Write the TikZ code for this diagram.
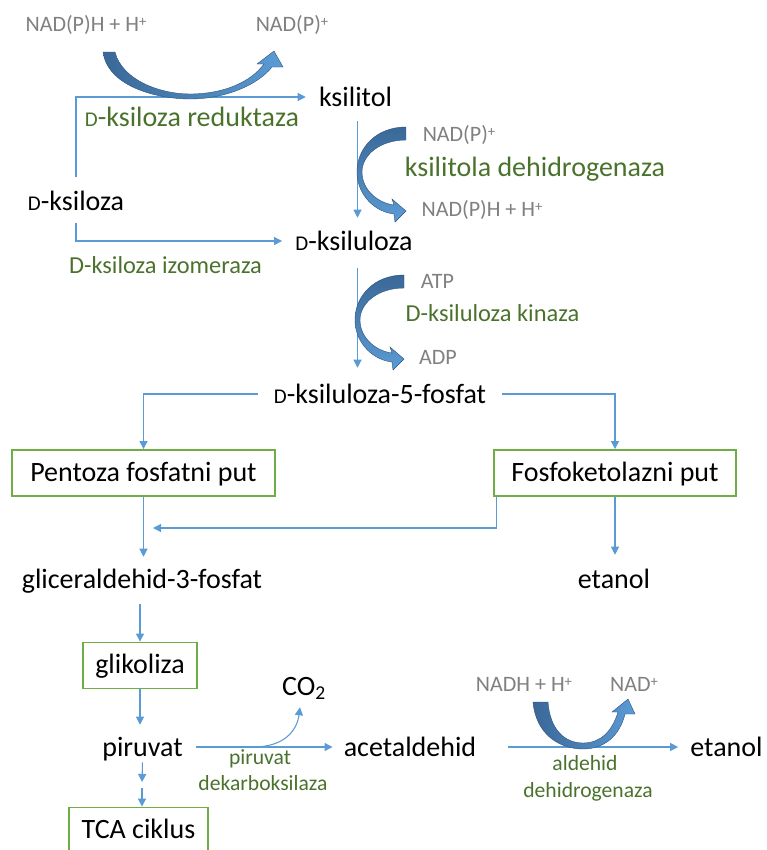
\documentclass[tikz,border=0pt]{standalone}
\usepackage{fontspec}
\setmainfont{Carlito}
\usetikzlibrary{arrows.meta}
\definecolor{lblue}{RGB}{91,155,213}
\definecolor{dblue}{RGB}{58,104,152}
\definecolor{gtext}{RGB}{128,128,128}
\definecolor{grn}{RGB}{74,114,44}
\definecolor{boxgrn}{RGB}{112,173,71}
\newcommand{\scD}{{\fontsize{15.75pt}{16pt}\selectfont D}}
\newcommand{\plussup}{{\fontsize{11pt}{11pt}\selectfont\raisebox{4pt}{+}}}
\newcommand{\carrowpath}{(406,127) .. controls (376,127) and (357,148) .. (357,172)
  .. controls (357,195) and (375,212) .. (394,214) -- (395,222) -- (406,211) -- (392,199) -- (394,205)
  .. controls (378,203) and (362,190) .. (362,172)
  .. controls (362,155) and (380,140) .. (406,140) -- cycle}
\begin{document}
\begin{tikzpicture}[x=0.75pt,y=-0.75pt,
  blk/.style={font=\fontsize{21pt}{24pt}\selectfont, text=black, inner sep=0pt, text height=16.5pt, text depth=3pt, anchor=base},
  gry/.style={font=\fontsize{16.5pt}{19pt}\selectfont, text=gtext, inner sep=0pt, anchor=base},
  grnL/.style={font=\fontsize{21pt}{24pt}\selectfont, text=grn, inner sep=0pt, anchor=base},
  grnM/.style={font=\fontsize{18.3pt}{21pt}\selectfont, text=grn, inner sep=0pt, anchor=base},
  grnS/.style={font=\fontsize{16.2pt}{19pt}\selectfont, text=grn, inner sep=0pt, anchor=base},
  pbox/.style={draw=boxgrn, line width=1.4pt, font=\fontsize{21pt}{24pt}\selectfont, inner sep=0pt, text height=15.5pt, text depth=3pt, minimum height=34.5pt},
  conn/.style={draw=lblue, line width=0.8pt, -{Triangle[length=6pt,width=6pt]}},
  bigarr/.style={draw=dblue!80!black, line width=0.3pt}
]
\useasboundingbox (0,0) rectangle (767,850);

% text nodes (anchored at baseline)
\node[gry] (nadph1) at (86,31.5) {NAD(P)H + H\plussup};
\node[gry] (nadp1) at (292,31.5) {NAD(P)\plussup};
\node[blk] (xylitol) at (355.5,106) {ksilitol};
\node[grnL] (xr) at (192,126) {\scD-ksiloza reduktaza};
\node[blk] (xyl) at (76,210) {\scD-ksiloza};
\node[grnM] (xi) at (165.5,273) {D-ksiloza izomeraza};
\node[blk] (xul) at (354,250) {\scD-ksiluloza};
\node[gry] (nadp2) at (459,141.5) {NAD(P)\plussup};
\node[grnL] (xdh) at (535,176) {ksilitola dehidrogenaza};
\node[gry] (nadph2) at (482,216.5) {NAD(P)H + H\plussup};
\node[gry] (atp) at (437.5,288.5) {ATP};
\node[grnM] (xk) at (492.5,321) {D-ksiluloza kinaza};
\node[gry] (adp) at (438,364.5) {ADP};
\node[blk] (x5p) at (380,403) {\scD-ksiluloza-5-fosfat};
\node[pbox, minimum width=197pt] (ppp) at (143.5,473) {Pentoza fosfatni put};
\node[pbox, minimum width=181pt] (pk) at (615,473) {Fosfoketolazni put};
\node[blk] (g3p) at (142,588) {gliceraldehid-3-fosfat};
\node[blk] (eth1) at (614,588) {etanol};
\node[pbox, minimum width=85.5pt] (gly) at (140,665.5) {glikoliza};
\node[blk] (pyr) at (142.5,756) {piruvat};
\node[pbox, minimum width=104pt] (tca) at (138.5,830.5) {TCA ciklus};
\node[blk] (co2) at (304,695) {CO\textsubscript{2}};
\node[grnS] (pdc1) at (260,764) {piruvat};
\node[grnS] (pdc2) at (263,790) {dekarboksilaza};
\node[blk] (acet) at (410,756) {acetaldehid};
\node[blk] (eth2) at (726.5,756) {etanol};
\node[gry] (nadh) at (524,691.5) {NADH + H\plussup};
\node[gry] (nad) at (634,691.5) {NAD\plussup};
\node[grnS] (ald1) at (585,770) {aldehid};
\node[grnS] (ald2) at (588,797) {dehidrogenaza};

\coordinate (joinpt) at (153,528);
\coordinate (pt) at (142,785);
\coordinate (co2start) at (253,747);

% connectors
\draw[conn, shorten <=8.25pt] (xyl.north) |- ([xshift=-9.75pt]xylitol.west);
\draw[conn, shorten <=6.75pt] (xyl.south) |- ([xshift=-9.75pt]xul.west);
\draw[conn, shorten <=8.25pt, shorten >=7.5pt] ([xshift=1.5pt]xylitol.south) -- ([xshift=1.5pt]xylitol.south |- xul.north);
\draw[conn, shorten <=10.5pt, shorten >=9.75pt] ([xshift=1.5pt]xylitol.south |- xul.south) -- ([xshift=1.5pt]xylitol.south |- x5p.north);
\draw[conn] ([xshift=-12pt]x5p.west) -| (ppp.north);
\draw[conn] ([xshift=12pt]x5p.east) -| (pk.north);
\draw[conn, shorten >=6.75pt] (ppp.south) -- (ppp.south |- g3p.north);
\draw[conn] ([xshift=2pt]pk.south west) |- (joinpt);
\draw[conn, shorten >=8.25pt] (pk.south) -- (pk.south |- eth1.north);
\draw[conn, shorten <=9pt] (g3p.south -| gly.north) -- (gly.north);
\draw[conn, shorten >=6.75pt] (gly.south) -- (gly.south |- pyr.north);
\draw[conn, shorten <=1.5pt, shorten >=2.25pt] (pyr.south) -- (pt);
\draw[conn, shorten <=2.25pt] (pt) -- (pt |- tca.north);
\draw[conn, shorten <=9.75pt, shorten >=8.25pt] (pyr.east) -- (pyr.east -| acet.west);
\draw[conn] (co2start) .. controls (285,747) and (297,730) .. ([xshift=-3pt,yshift=-6pt]co2.south);
\draw[conn, shorten <=24pt, shorten >=9pt] (acet.east) -- (acet.east -| eth2.west);

% curved block arrows
\shade[left color=dblue, right color=lblue, bigarr]
  (103,52) .. controls (108,88) and (160,99) .. (190,99)
  .. controls (225,99) and (258,85) .. (272,67)
  -- (283,67) -- (274,51) -- (257,64) -- (264,64)
  .. controls (250,83) and (222,94) .. (190,94)
  .. controls (160,94) and (122,80) .. (115,52) -- cycle;
\shade[top color=dblue, bottom color=lblue, bigarr] \carrowpath;
\begin{scope}[shift={(-2,148)}]
\shade[top color=dblue, bottom color=lblue, bigarr] \carrowpath;
\end{scope}
\shade[left color=dblue, right color=lblue, bigarr]
  (533,702) .. controls (536,735) and (560,749) .. (583,749)
  .. controls (605,749) and (620,735) .. (625,714)
  -- (635,714) -- (628,699) -- (612,712) -- (618,712)
  .. controls (612,732) and (600,743) .. (583,743)
  .. controls (565,743) and (550,730) .. (548,702) -- cycle;
\end{tikzpicture}
\end{document}
